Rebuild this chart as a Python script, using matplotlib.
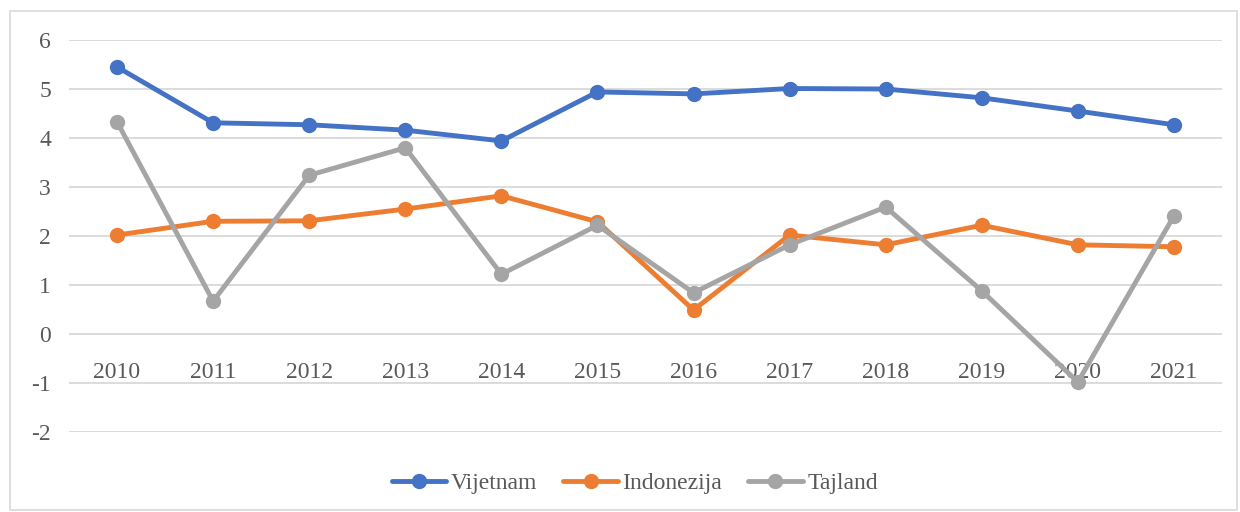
import matplotlib
matplotlib.use("Agg")
import matplotlib.pyplot as plt
from matplotlib.patches import Rectangle

years = ["2010", "2011", "2012", "2013", "2014", "2015", "2016", "2017", "2018", "2019", "2020", "2021"]
vijetnam = [5.45, 4.31, 4.27, 4.16, 3.94, 4.94, 4.90, 5.01, 5.00, 4.82, 4.55, 4.27]
indonezija = [2.02, 2.30, 2.31, 2.55, 2.82, 2.29, 0.49, 2.02, 1.82, 2.22, 1.82, 1.78]
tajland = [4.33, 0.67, 3.24, 3.80, 1.22, 2.22, 0.84, 1.82, 2.59, 0.88, -0.98, 2.41]
yticks = [-2, -1, 0, 1, 2, 3, 4, 5, 6]

plt.rcParams['font.family'] = ['Liberation Serif', 'DejaVu Serif']
txt = '#595959'

fig = plt.figure(figsize=(12.4, 5.12), dpi=100)
fig.patches.append(Rectangle((10/1240, 1 - 510/512), 1227/1240, 499/512,
                             transform=fig.transFigure, fill=False,
                             edgecolor='#d9d9d9', linewidth=1.2))
ax = fig.add_axes([69/1240, 1 - 432/512, 1153/1240, 392/512])

x = list(range(len(years)))
series = [(vijetnam, '#4472c4', 'Vijetnam'),
          (indonezija, '#ed7d31', 'Indonezija'),
          (tajland, '#a5a5a5', 'Tajland')]
for vals, col, lab in series:
    ax.plot(x, vals, color=col, linewidth=3.5, marker='o', markersize=10,
            label=lab, zorder=3, solid_capstyle='round')

ax.set_ylim(-2, 6)
ax.set_xlim(-0.5, len(years) - 0.5)
ax.set_yticks(yticks)
ax.set_yticklabels([str(v) for v in yticks], color=txt, fontsize=17)
ax.yaxis.grid(True, color='#d9d9d9', linewidth=1.3)
ax.tick_params(axis='y', length=0, pad=13)
ax.set_xticks([])
for s in ax.spines.values():
    s.set_visible(False)
ax.set_axisbelow(True)

for xi, yr in zip(x, years):
    ax.annotate(yr, (xi, 0), xytext=(0, -28), textcoords='offset points',
                ha='center', va='center', fontsize=17, color=txt, zorder=1)

leg = fig.legend(loc='center', bbox_to_anchor=(635/1240, 1 - 483/512), ncol=3,
                 frameon=False, fontsize=17, handlelength=2.3, columnspacing=1.1,
                 handletextpad=0.2, labelcolor=txt)

fig.savefig('out.png', dpi=100)
